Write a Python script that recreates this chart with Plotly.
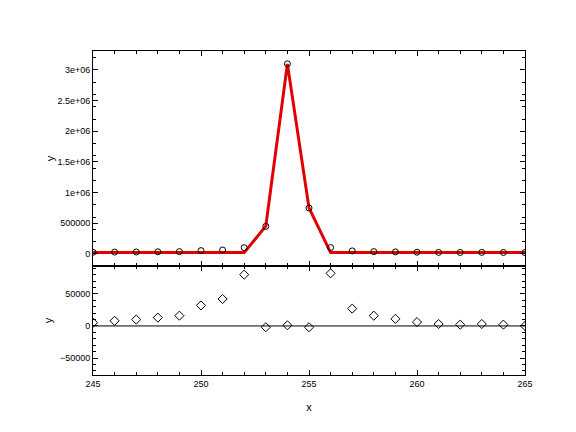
import plotly.graph_objects as go

x = list(range(245, 266))
model = [20000]*8 + [450000, 3100000, 750000] + [20000]*10
resid = [5000, 8000, 10000, 13000, 16000, 32000, 42000, 80000, -2000, 1000, -2000,
         82000, 27000, 16000, 11000, 6000, 3000, 2000, 3000, 2000, 0]
data = [m + r for m, r in zip(model, resid)]

fig = go.Figure()
fig.add_trace(go.Scatter(x=x, y=model, mode="lines", line=dict(color="#e00000", width=3), xaxis="x", yaxis="y"))
fig.add_trace(go.Scatter(x=x, y=data, mode="markers", marker=dict(symbol="circle-open", color="black", size=6), xaxis="x", yaxis="y"))
fig.add_trace(go.Scatter(x=[245, 265], y=[0, 0], mode="lines", line=dict(color="black", width=1), xaxis="x2", yaxis="y2"))
fig.add_trace(go.Scatter(x=x, y=resid, mode="markers", marker=dict(symbol="diamond-open", color="black", size=7), xaxis="x2", yaxis="y2"))

ax = dict(showline=True, linecolor="black", mirror="allticks", ticks="inside", ticklen=5,
          minor=dict(ticks="inside", ticklen=3, tickcolor="black"), tickcolor="black",
          showgrid=False, zeroline=False, tickfont=dict(size=9), automargin=False)
fig.update_layout(
    width=576, height=432, showlegend=False, plot_bgcolor="white", paper_bgcolor="white",
    font=dict(family="Liberation Sans", color="black", size=9),
    margin=dict(l=85, r=59, t=43, b=65, autoexpand=False),
    xaxis=dict(**ax, range=[245, 265], domain=[0, 1], anchor="y", showticklabels=False, dtick=5, minor_dtick=1),
    yaxis=dict(**ax, range=[-196000, 3310000], domain=[0.337, 1], anchor="x",
               tickvals=[0, 500000, 1e6, 1.5e6, 2e6, 2.5e6, 3e6],
               ticktext=["0", "500000", "1e+06", "1.5e+06", "2e+06", "2.5e+06", "3e+06"],
               title=dict(text="y", standoff=0)),
    xaxis2=dict(**ax, range=[245, 265], domain=[0, 1], anchor="y2", dtick=5, minor_dtick=1,
                title=dict(text="x")),
    yaxis2=dict(**ax, range=[-76500, 93750], domain=[0, 0.337], anchor="x2",
                tickvals=[-50000, 0, 50000], ticktext=["\u221250000", "0", "50000"],
                title=dict(text="y", standoff=5)),
)
fig.update_yaxes(minor_nticks=5)
fig.write_html("out.html")
